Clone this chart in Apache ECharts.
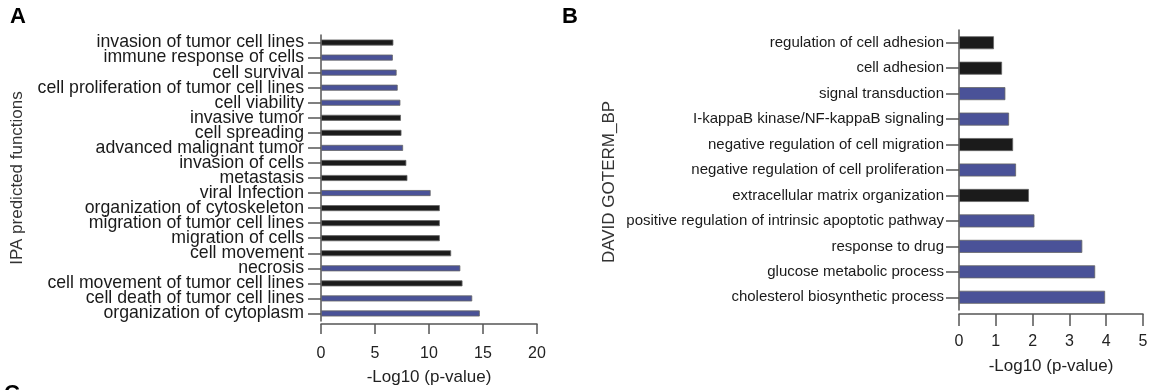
<!DOCTYPE html>
<html>
<head>
<meta charset="utf-8">
<style>
  html, body { margin: 0; padding: 0; background: #fff; }
  #chart { width: 1151px; height: 390px; }
</style>
<script src="https://cdn.jsdelivr.net/npm/echarts@6/dist/echarts.min.js"></script>
</head>
<body>
<div id="chart"></div>
<script>
// panel A: IPA predicted functions
var ipaTerms = [
  'invasion of tumor cell lines', 'immune response of cells', 'cell survival',
  'cell proliferation of tumor cell lines', 'cell viability', 'invasive tumor',
  'cell spreading', 'advanced malignant tumor', 'invasion of cells', 'metastasis',
  'viral Infection', 'organization of cytoskeleton', 'migration of tumor cell lines',
  'migration of cells', 'cell movement', 'necrosis', 'cell movement of tumor cell lines',
  'cell death of tumor cell lines', 'organization of cytoplasm'
]
var ipaValues = [6.7, 6.65, 7.0, 7.1, 7.35, 7.4, 7.45, 7.6, 7.9, 8.0, 10.15, 11.0, 11.0, 11.0, 12.05, 12.9, 13.1, 14.0, 14.7]
var ipaGroup = [0, 1, 1, 1, 1, 0, 0, 1, 0, 0, 1, 0, 0, 0, 0, 1, 0, 1, 1]
var ipaTicks = [0, 5, 10, 15, 20]

// panel B: DAVID GOTERM_BP
var davidTerms = [
  'regulation of cell adhesion', 'cell adhesion', 'signal transduction',
  'I-kappaB kinase/NF-kappaB signaling', 'negative regulation of cell migration',
  'negative regulation of cell proliferation', 'extracellular matrix organization',
  'positive regulation of intrinsic apoptotic pathway', 'response to drug',
  'glucose metabolic process', 'cholesterol biosynthetic process'
]
var davidValues = [0.95, 1.17, 1.26, 1.36, 1.47, 1.55, 1.9, 2.05, 3.35, 3.7, 3.97]
var davidGroup = [0, 0, 1, 1, 0, 1, 0, 1, 1, 1, 1]
var davidTicks = [0, 1, 2, 3, 4, 5]

var groupColors = ['#1b1b1b', '#4a5298']
var axisColor = '#555'
var font = 'Liberation Sans, Arial, sans-serif'

function barData(values, groups) {
  return values.map(function(v, i) {
    return {
      value: v,
      itemStyle: { color: groupColors[groups[i]], borderColor: '#666', borderWidth: 0.8 }
    }
  })
}

function valueAxis(gridIndex, ticks, opts) {
  return {
    type: 'value',
    gridIndex: gridIndex,
    min: ticks[0],
    max: ticks[ticks.length - 1],
    interval: ticks[1] - ticks[0],
    offset: opts.offset,
    axisLine: { show: true, lineStyle: { color: axisColor, width: 1.5 } },
    axisTick: { show: true, length: opts.tick, lineStyle: { color: axisColor, width: 1.5 } },
    splitLine: { show: false },
    axisLabel: { margin: opts.margin, fontFamily: font, fontSize: 16, color: '#222' },
    name: '-Log10 (p-value)',
    nameLocation: 'middle',
    nameGap: opts.nameGap,
    nameTextStyle: { fontFamily: font, fontSize: 17, color: '#222' }
  }
}

function categoryAxis(gridIndex, terms, opts) {
  return {
    type: 'category',
    gridIndex: gridIndex,
    data: terms,
    inverse: true,
    axisLine: { show: true, lineStyle: { color: axisColor, width: 1.5 } },
    axisTick: { show: true, alignWithLabel: true, length: 13, lineStyle: { color: axisColor, width: 1.5 } },
    axisLabel: { interval: 0, margin: opts.margin, fontFamily: font, fontSize: opts.size, color: '#1a1a1a' },
    name: opts.name,
    nameLocation: 'middle',
    nameGap: opts.nameGap,
    nameTextStyle: { fontFamily: font, fontSize: 17, color: '#333', padding: opts.namePad }
  }
}

var chart = echarts.init(document.getElementById('chart'))
chart.setOption({
  animation: false,
  backgroundColor: '#fff',
  graphic: [
    { type: 'text', left: 10, top: 6, style: { text: 'A', font: 'bold 22px ' + font, fill: '#000' } },
    { type: 'text', left: 562, top: 6, style: { text: 'B', font: 'bold 22px ' + font, fill: '#000' } },
    { type: 'text', left: 4, top: 383, style: { text: 'C', font: 'bold 22px ' + font, fill: '#000' } }
  ],
  grid: [
    { left: 321, right: 614, top: 35, height: 286, outerBoundsMode: 'none' },
    { left: 959, right: 8, top: 30, height: 280, outerBoundsMode: 'none' }
  ],
  xAxis: [
    valueAxis(0, ipaTicks, { offset: 3, tick: 10, margin: 22, nameGap: 45 }),
    valueAxis(1, davidTicks, { offset: 4, tick: 12, margin: 20, nameGap: 44 })
  ],
  yAxis: [
    categoryAxis(0, ipaTerms, { margin: 17, size: 17.7, name: 'IPA predicted functions', nameGap: 295, namePad: 0 }),
    categoryAxis(1, davidTerms, { margin: 15, size: 15, name: 'DAVID GOTERM_BP', nameGap: 341, namePad: [0, 24, 0, 0] })
  ],
  series: [
    {
      type: 'bar',
      xAxisIndex: 0,
      yAxisIndex: 0,
      barWidth: 6,
      data: barData(ipaValues, ipaGroup)
    },
    {
      type: 'bar',
      xAxisIndex: 1,
      yAxisIndex: 1,
      barWidth: 13,
      data: barData(davidValues, davidGroup)
    }
  ]
})
</script>
</body>
</html>
